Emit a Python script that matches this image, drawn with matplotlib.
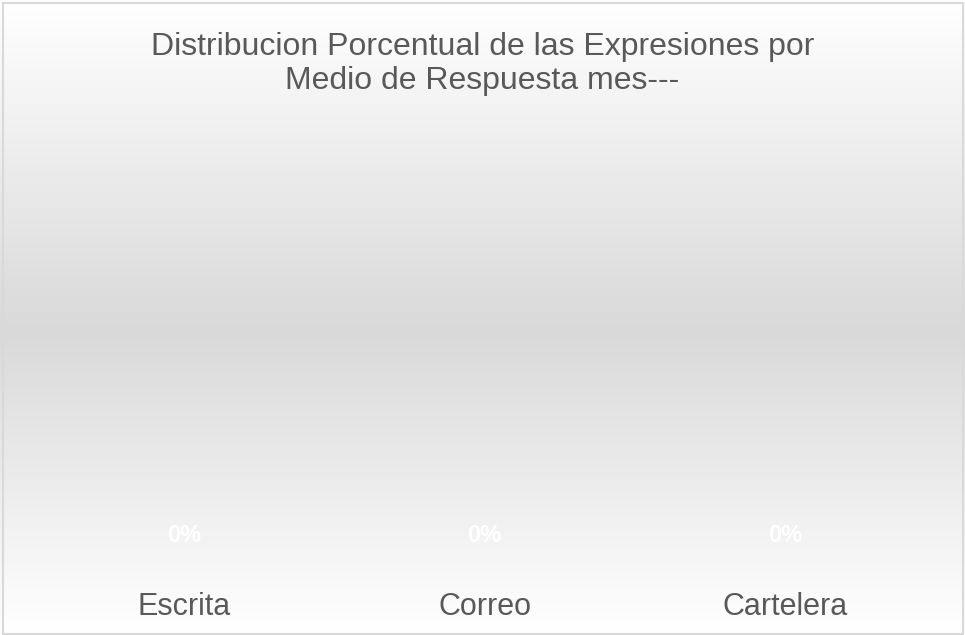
import numpy as np
import matplotlib
matplotlib.use("Agg")
import matplotlib.pyplot as plt
from matplotlib.colors import LinearSegmentedColormap
from matplotlib.patches import Rectangle

plt.rcParams['font.family'] = ['Liberation Sans', 'DejaVu Sans']

title = "Distribucion Porcentual de las Expresiones por\nMedio de Respuesta mes---"
categories = ["Escrita", "Correo", "Cartelera"]
values = [0, 0, 0]  # percentage per response channel

W, H = 965, 635
fig = plt.figure(figsize=(W / 100, H / 100), dpi=100)

# vertical background gradient: white -> light gray -> white
bg = fig.add_axes([0, 0, 1, 1], zorder=0)
grad = LinearSegmentedColormap.from_list(
    "bg", [(0.0, "#ffffff"), (0.52, "#d9d9d9"), (1.0, "#ffffff")])
bg.imshow(np.linspace(0, 1, 512).reshape(-1, 1), aspect="auto", cmap=grad,
          extent=[0, 1, 0, 1], origin="upper")
bg.set_axis_off()

# thin chart-area border
fig.add_artist(Rectangle((2.5 / W, 1.5 / H), (W - 5) / W, (H - 4) / H,
                         transform=fig.transFigure, fill=False,
                         edgecolor="#d9d9d9", linewidth=1.5))

ax = fig.add_axes([34 / W, 1 - 550 / H, 901 / W, 430 / H], zorder=1)
ax.patch.set_alpha(0)
x = np.arange(len(categories))
bars = ax.bar(x, values, width=0.55, color="#4f81bd")
ax.bar_label(bars, labels=[f"{v:.0f}%" for v in values], padding=2,
             color="white", fontsize=17, fontweight="bold")
ax.set_xlim(-0.5, len(categories) - 0.5)
ax.set_ylim(0, 1)
ax.set_xticks(x, categories)
ax.tick_params(axis="x", length=0, pad=30, labelsize=22, labelcolor="#595959")
ax.set_yticks([])
for s in ax.spines.values():
    s.set_visible(False)

fig.text(0.5, 1 - 64 / H, title, ha="center", va="center", fontsize=23,
         color="#595959", linespacing=1.15)

fig.savefig("out.png", dpi=100)
